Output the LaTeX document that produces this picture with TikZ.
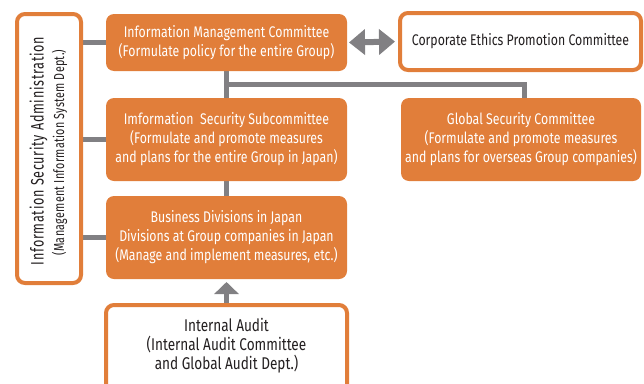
\documentclass[tikz,border=0pt]{standalone}
\usepackage{fontspec}
\setmainfont[FakeStretch=0.8]{Fira Sans}
\newfontfamily\admfont[FakeStretch=0.7,LetterSpace=4]{Fira Sans}
\newfontfamily\admfontb[FakeStretch=0.74,LetterSpace=2]{Fira Sans}
\usetikzlibrary{arrows.meta,calc,backgrounds}
\definecolor{orng}{HTML}{E17E3A}
\definecolor{conn}{HTML}{818083}
\definecolor{txt}{HTML}{231F20}
\begin{document}
\begin{tikzpicture}[x=1pt,y=-1pt,
 fbox/.style={fill=orng, rounded corners=8pt, inner sep=0pt, outer sep=0pt, text=white, align=center, font=\fontsize{15.4}{19}\selectfont},
 obox/.style={draw=orng, line width=4pt, fill=white, rounded corners=8pt, inner sep=0pt, outer sep=0pt, text=txt, align=center, font=\fontsize{15.4}{19}\selectfont},
 cline/.style={draw=conn, line width=5pt},
]
\useasboundingbox (0,0) rectangle (644,383);
\clip (0,0) rectangle (644,383);
\node[fbox, minimum width=241pt, minimum height=57pt] (imc) at (226.5,42.5)
  {Information Management Committee\\(Formulate policy for the entire Group)};
\node[obox, minimum width=241pt, minimum height=57pt] (corp) at (520.5,41.5)
  {Corporate Ethics Promotion Committee};
\node[fbox, minimum width=241pt, minimum height=83pt] (sub) at (226.5,139.5)
  {Imformation\ \ Security Subcommittee\\(Formulate and promote measures\\and plans for the entire Group in Japan)};
\node[fbox, minimum width=240pt, minimum height=83pt] (glob) at (521,139.5)
  {Global Security Committee\\(Formulate and promote measures\\and plans for overseas Group companies)};
\node[fbox, minimum width=241pt, minimum height=83pt] (biz) at (226.5,237.5)
  {Business Divisions in Japan\\Divisions at Group companies in Japan\\(Manage and implement measures, etc.)};
\node[obox, minimum width=241pt, minimum height=90pt] (audit) at (226.5,350) {};
\node[text=txt, align=center, font=\fontsize{17}{19}\selectfont] (audittext) at (226.5,346)
  {Internal Audit\\(Internal Audit Committee\\and Global Audit Dept.)};
\node[obox, minimum width=64pt, minimum height=269pt] (admin) at (49,148.5) {};
\node[rotate=90, text=txt, font=\admfont\fontsize{18}{20}\selectfont, inner sep=0pt] (admt1) at (38.5,151)
  {Information Security Administration};
\node[rotate=90, text=txt, font=\admfontb\fontsize{14.5}{16}\selectfont, inner sep=0pt] (admt2) at (59.5,152.5)
  {(Management Information System Dept.)};
\begin{pgfonlayer}{background}
\draw[cline] (imc.west) -- (imc.west -| admin.east);
\draw[cline] (sub.west) -- (sub.west -| admin.east);
\draw[cline] (biz.west) -- (biz.west -| admin.east);
\draw[cline] (imc.south) -- (sub.north);
\draw[cline] (sub.south) -- (biz.north);
\coordinate (br) at ($(imc.south)+(0,13)$);
\coordinate (gtop) at ($(glob.north)+(3,0)$);
\draw[cline] (br) -| (gtop);
\end{pgfonlayer}
\draw[cline, -{Triangle[width=24pt,length=12pt]}, shorten <=2pt, shorten >=3pt] (audit.north) -- (biz.south);
\draw[cline, line width=6pt, {Triangle[width=25pt,length=16pt]}-{Triangle[width=25pt,length=16pt]}, shorten <=2pt, shorten >=5pt] (imc.east) -- (corp.west);
\end{tikzpicture}
\end{document}
